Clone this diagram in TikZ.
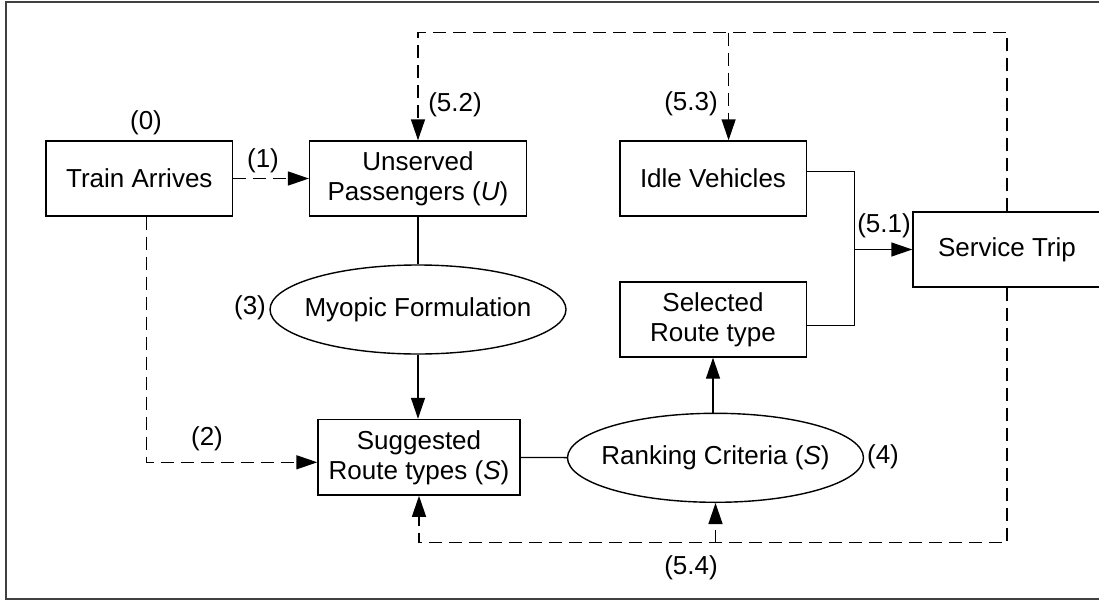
\documentclass[tikz,border=0pt]{standalone}
\usepackage{fontspec}
\setmainfont{Liberation Sans}
\usetikzlibrary{shapes.geometric, arrows.meta, calc}
\definecolor{mydark}{RGB}{0,0,0}
\definecolor{myframe}{RGB}{64,64,64}
\tikzset{
  procbox/.style={rectangle, draw=mydark, fill=white, align=center,
    minimum height=37.5pt, inner sep=0pt, line width=0.7pt},
  procoval/.style={ellipse, draw=mydark, fill=white, align=center,
    minimum width=148pt, minimum height=44.5pt, inner xsep=-6pt, inner ysep=0pt,
    line width=0.7pt},
  flowline/.style={line width=0.7pt, color=mydark},
  flowarrow/.style={-{Triangle[length=10.5pt,width=7pt]}, line width=0.7pt, color=mydark},
  dasharrow/.style={flowarrow, dash pattern=on 6.5pt off 3.5pt},
  steplbl/.style={inner sep=0pt}
}
\begin{document}
\begin{tikzpicture}[x=0.5pt, y=-0.5pt, font=\fontsize{13}{15}\selectfont]
  \useasboundingbox (0,0) rectangle (1099,600);
  \clip (0,0) rectangle (1099,600);

  % outer frame (runs off on the right)
  \draw[myframe, line width=1pt] (5.5,1.5) rectangle (1120,598.5);

  % boxes
  \node[procbox, minimum width=93.25pt] (train) at (139.3,178.5) {Train Arrives};
  \node[procbox, minimum width=108.4pt] (unserved) at (418,178.5) {Unserved\\Passengers (\textit{U})};
  \node[procbox, minimum width=93.2pt] (idle) at (713,178.5) {Idle Vehicles};
  \node[procbox, minimum width=94pt] (service) at (1007,249.5) {Service Trip};
  \node[procbox, minimum width=93.2pt] (selected) at (713,319.5) {Selected\\Route type};
  \node[procbox, minimum width=101pt, minimum height=37.8pt] (suggested) at (419,457.3) {Suggested\\Route types (\textit{S})};

  % ellipses
  \node[procoval] (myopic) at (418,309.5) {Myopic Formulation};
  \node[procoval] (ranking) at (715.5,457.8) {Ranking Criteria (\textit{S})};

  % step numbers
  \node[steplbl] (l0) at (146,123) {(0)};
  \node[steplbl] (l1) at (263,161) {(1)};
  \node[steplbl] (l2) at (207,438.5) {(2)};
  \node[steplbl] (l3) at (250,308) {(3)};
  \node[steplbl] (l4) at (883,457) {(4)};
  \node[steplbl] (l51) at (884,226) {(5.1)};
  \node[steplbl] (l52) at (455,105) {(5.2)};
  \node[steplbl] (l53) at (691,104) {(5.3)};
  \node[steplbl] (l54) at (691,568) {(5.4)};

  % bus levels of the feedback loops
  \coordinate (topbus) at (0,32.7);
  \coordinate (botbus) at (0,542.7);
  \coordinate (merge) at (854.3,249.5);

  % solid flow
  \draw[flowline] (unserved) -- (myopic);
  \draw[flowarrow] (myopic.south) -- (myopic.south |- suggested.north);
  \draw[flowline] (suggested) -- (ranking);
  \draw[flowarrow] (selected.south |- ranking.north) -- (selected.south);
  \draw[flowline] ([yshift=3.4pt]idle.east) -| (merge);
  \draw[flowline] ([yshift=-3.1pt]selected.east) -| (merge);
  \draw[flowarrow] (merge) -- (service.west);

  % dashed flow
  \draw[dasharrow] (train) -- (unserved);
  \draw[dasharrow] ([xshift=3.5pt]train.south) |- ([yshift=-2.5pt]suggested.west);
  \draw[dasharrow] (service.north) |- (unserved.north |- topbus) -- (unserved.north);
  \draw[dasharrow] ([xshift=7.8pt]idle.north |- topbus) -- ([xshift=7.8pt]idle.north);
  \draw[dasharrow] (service.south) |- (suggested.south |- botbus) -- (suggested.south);
  \draw[dasharrow] (ranking.south |- botbus) -- (ranking.south);
\end{tikzpicture}
\end{document}
